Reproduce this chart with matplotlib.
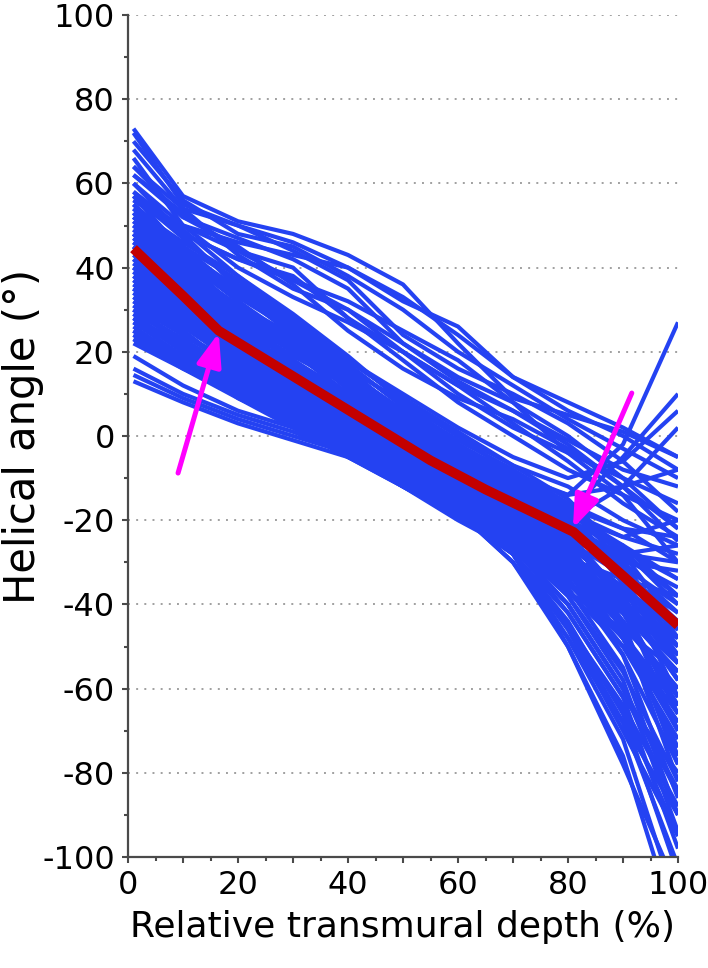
import matplotlib
matplotlib.use("Agg")
import matplotlib.pyplot as plt
from matplotlib.ticker import MultipleLocator, FuncFormatter

plt.rcParams['font.family'] = ['DejaVu Sans']
plt.rcParams['axes.unicode_minus'] = False

# Relative transmural depth sample positions (%)
depth = [1, 10, 20, 30, 40, 50, 60, 70, 80, 90, 100]

# Individual helical angle profiles (degrees), one list per profile
upper_profiles = [
    [73, 57, 51, 48, 43, 36, 22, 9, 5, 1, -5],
    [72, 55, 50, 46, 40, 33, 24, 14, 6, 0, -8],
    [70, 56, 48, 45, 38, 30, 20, 12, 4, -3, -10],
    [68, 54, 50, 44, 37, 24, 16, 10, 3, -6, -18],
    [66, 50, 46, 43, 40, 32, 26, 14, 8, 2, -5],
    [64, 52, 47, 42, 35, 22, 14, 8, 0, -10, -22],
    [62, 53, 44, 40, 28, 20, 12, 6, -2, -12, -25],
    [60, 48, 42, 37, 32, 25, 18, 8, -4, -14, -30],
    [60, 50, 44, 37, 30, 20, 10, 2, -4, -10, -16],
    [58, 48, 42, 38, 28, 18, 8, 0, -8, -14, -20],
    [62, 52, 45, 36, 25, 16, 9, 4, -3, -12, -22],
    [56, 50, 40, 33, 27, 20, 12, 3, -6, -16, -24],
    [64, 54, 43, 35, 30, 22, 13, 6, -1, -8, -12],
]

rising_end_profiles = [
    [48, 38, 30, 22, 14, 5, -3, -10, -14, -2, 27],
    [40, 33, 25, 16, 8, 0, -6, -12, -18, -5, 10],
    [52, 42, 34, 26, 18, 10, 2, -5, -10, -6, 6],
    [35, 28, 20, 12, 4, -4, -10, -16, -20, -12, 2],
    [45, 36, 28, 20, 12, 4, -3, -9, -14, -12, -8],
]

low_start_profiles = [
    [19, 12, 6, 2, -3, -9, -15, -22, -32, -48, -70],
    [16, 10, 5, 1, -4, -10, -16, -26, -42, -62, -80],
    [14.5, 9, 4, 0, -4, -10, -17, -28, -46, -70, -95],
    [13, 8, 3, -1, -5, -11, -18, -30, -50, -78, -108],
]

steep_end_profiles = [
    [30, 22, 14, 6, -2, -10, -18, -30, -48, -72, -112],
    [25, 18, 12, 5, -3, -10, -17, -28, -50, -76, -118],
    [35, 27, 18, 10, 2, -8, -17, -28, -45, -68, -102],
    [40, 30, 20, 12, 3, -6, -15, -28, -45, -65, -95],
    [28, 22, 14, 7, 0, -8, -16, -28, -48, -68, -90],
    [45, 34, 24, 15, 6, -4, -14, -26, -40, -60, -85],
]

core_profiles = [
    [57, 47, 36, 27, 18, 9, 1, -7, -15, -28, -45],
    [55, 44, 33, 25, 16, 8, 0, -9, -20, -35, -62],
    [54, 46, 38, 29, 19, 8, -2, -10, -16, -22, -30],
    [53, 40, 31, 24, 15, 6, -3, -12, -24, -40, -70],
    [52, 45, 37, 27, 16, 5, -4, -11, -18, -26, -38],
    [51, 42, 30, 21, 13, 5, -4, -13, -22, -34, -54],
    [50, 41, 34, 25, 14, 4, -5, -12, -19, -24, -20],
    [49, 38, 28, 21, 14, 6, -2, -9, -17, -30, -48],
    [48, 40, 30, 20, 10, 2, -6, -14, -26, -44, -78],
    [47, 36, 27, 19, 12, 3, -5, -13, -21, -29, -36],
    [46, 38, 29, 18, 9, 1, -7, -15, -23, -38, -58],
    [45, 35, 25, 17, 10, 1, -8, -16, -25, -37, -52],
    [44, 37, 26, 16, 7, -1, -9, -17, -24, -31, -40],
    [43, 33, 24, 17, 8, -2, -10, -18, -28, -45, -82],
    [42, 34, 22, 14, 7, -1, -8, -15, -22, -28, -26],
    [41, 31, 24, 15, 5, -3, -11, -19, -27, -40, -66],
    [40, 33, 21, 13, 6, -3, -12, -20, -30, -48, -74],
    [39, 29, 22, 14, 4, -4, -12, -19, -25, -33, -42],
    [38, 30, 19, 11, 5, -4, -13, -21, -32, -52, -86],
    [37, 27, 20, 12, 3, -5, -13, -22, -31, -42, -56],
    [36, 29, 18, 10, 2, -6, -14, -22, -27, -30, -32],
    [35, 26, 17, 11, 3, -6, -15, -24, -34, -50, -72],
    [34, 27, 19, 9, 0, -7, -14, -21, -26, -36, -46],
    [33, 24, 16, 9, 1, -8, -16, -25, -36, -55, -90],
    [32, 25, 15, 7, 0, -8, -16, -24, -33, -45, -60],
    [31, 22, 16, 8, -1, -9, -17, -26, -38, -58, -94],
    [30, 23, 14, 6, -1, -9, -17, -24, -29, -34, -38],
    [29, 20, 13, 7, -2, -10, -18, -27, -40, -60, -84],
    [28, 21, 12, 5, -3, -10, -18, -26, -35, -47, -64],
    [27, 19, 12, 4, -3, -11, -19, -28, -42, -62, -98],
    [26, 18, 11, 5, -4, -12, -20, -27, -33, -40, -50],
    [25, 17, 10, 3, -4, -12, -19, -28, -44, -66, -104],
    [24, 18, 9, 2, -5, -12, -19, -27, -37, -50, -68],
    [23, 16, 9, 3, -5, -12, -19, -28, -45, -64, -88],
    [56, 48, 35, 24, 15, 4, -6, -14, -22, -32, -44],
    [54, 43, 32, 22, 11, 2, -7, -16, -28, -46, -76],
    [50, 39, 27, 18, 9, 0, -8, -15, -20, -26, -34],
    [46, 35, 26, 16, 6, -2, -11, -20, -32, -48, -68],
    [42, 30, 20, 12, 4, -5, -14, -23, -30, -38, -44],
    [38, 28, 18, 10, 1, -7, -15, -23, -31, -40, -52],
    [34, 25, 15, 8, -2, -9, -16, -24, -32, -41, -48],
    [30, 22, 13, 5, -2, -10, -17, -26, -37, -46, -56],
    [48, 37, 28, 17, 8, 0, -9, -18, -26, -36, -50],
    [44, 32, 23, 13, 4, -4, -12, -20, -29, -39, -54],
    [55, 45, 34, 24, 14, 5, -4, -12, -20, -30, -42],
    [53, 43, 35, 26, 17, 7, -1, -8, -16, -27, -40],
    [51, 40, 29, 20, 12, 3, -6, -15, -25, -38, -58],
    [49, 42, 32, 22, 12, 3, -5, -12, -18, -24, -28],
    [47, 39, 31, 23, 13, 3, -6, -14, -22, -34, -52],
    [45, 38, 29, 20, 10, 0, -8, -15, -22, -32, -46],
    [43, 36, 27, 18, 9, 0, -8, -16, -26, -42, -64],
    [41, 34, 25, 16, 7, -1, -9, -17, -26, -36, -48],
    [39, 32, 23, 14, 6, -2, -10, -18, -29, -46, -70],
    [37, 30, 21, 13, 4, -4, -11, -18, -24, -28, -30],
    [35, 28, 20, 12, 4, -4, -12, -21, -32, -48, -66],
    [33, 26, 18, 10, 2, -5, -13, -21, -30, -40, -52],
    [31, 24, 17, 9, 1, -6, -14, -22, -34, -52, -78],
    [29, 23, 15, 8, 0, -7, -15, -23, -31, -38, -44],
    [27, 21, 14, 7, -1, -8, -16, -25, -38, -56, -82],
    [25, 19, 12, 5, -2, -9, -16, -24, -32, -42, -54],
    [23, 17, 11, 4, -3, -10, -17, -26, -40, -60, -90],
    [22, 16, 10, 4, -3, -10, -17, -25, -33, -44, -60],
    [57, 44, 32, 23, 15, 6, -2, -10, -19, -31, -48],
    [52, 41, 30, 22, 14, 5, -3, -11, -20, -32, -50],
    [48, 36, 26, 18, 10, 1, -6, -13, -20, -27, -34],
    [44, 34, 24, 15, 7, -1, -9, -18, -28, -42, -62],
    [40, 31, 22, 14, 5, -3, -11, -19, -28, -40, -58],
    [36, 27, 19, 11, 3, -5, -12, -20, -28, -37, -46],
    [32, 24, 17, 9, 1, -6, -14, -22, -31, -44, -62],
    [28, 20, 13, 6, -1, -8, -15, -23, -31, -42, -56],
    [24, 17, 10, 4, -3, -10, -17, -25, -35, -48, -64],
    [58, 49, 38, 28, 18, 9, 0, -7, -12, -20, -26],
    [50, 44, 35, 26, 17, 7, -2, -10, -18, -28, -38],
    [46, 40, 31, 22, 13, 4, -4, -11, -17, -22, -24],
]

# Mean / model profile (red)
mean_depth = [1, 5, 10, 16.5, 25, 35, 45, 55, 65, 75, 81, 90, 100]
mean_angle = [44.5, 39.5, 33.3, 25, 18.2, 10.2, 2.2, -5.8, -12.7, -19, -22.8, -33.2, -45]

# Annotation arrows: (tail, head) in data coordinates
arrow_tails = [(9.1, -8.8), (91.6, 10.2)]
arrow_heads = [(16.5, 24.5), (80.9, -21.9)]

W, H = 708, 968
fig = plt.figure(figsize=(W / 100, H / 100), dpi=100)
ax = fig.add_axes([128 / W, (H - 857) / H, 550 / W, 842 / H])

blue = '#2442f2'
all_profiles = upper_profiles + rising_end_profiles + low_start_profiles + steep_end_profiles + core_profiles
for prof in all_profiles:
    ax.plot(depth, prof, color=blue, lw=3.0, solid_capstyle='butt', solid_joinstyle='round', zorder=2)

ax.plot(mean_depth, mean_angle, color='#c40000', lw=7.0, solid_capstyle='butt', zorder=3)

for tail, head in zip(arrow_tails, arrow_heads):
    ax.annotate('', xy=head, xytext=tail,
                arrowprops=dict(arrowstyle='-|>,head_length=2.0,head_width=0.75',
                                color='#ff00ff', lw=3.6, shrinkA=0, shrinkB=0),
                zorder=4)

ax.set_xlim(0, 100)
ax.set_ylim(-100, 100)

ax.xaxis.set_major_locator(MultipleLocator(10))
ax.xaxis.set_minor_locator(MultipleLocator(5))
ax.xaxis.set_major_formatter(FuncFormatter(lambda v, p: f"{int(round(v))}" if int(round(v)) % 20 == 0 else ""))
ax.yaxis.set_major_locator(MultipleLocator(20))
ax.yaxis.set_minor_locator(MultipleLocator(10))
ax.yaxis.set_major_formatter(FuncFormatter(lambda v, p: f"{int(round(v))}"))

for y in range(-80, 101, 20):
    ax.axhline(y, color='#a0a0a0', lw=1.4, linestyle=(0, (1, 3.2)), zorder=1)

for s in ['top', 'right']:
    ax.spines[s].set_visible(False)
for s in ['left', 'bottom']:
    ax.spines[s].set_color('#4a4a4a')
    ax.spines[s].set_linewidth(1.6)

ax.tick_params(which='major', direction='out', length=4.5, width=1.5, color='#4a4a4a',
               labelsize=23, pad=5)
ax.tick_params(which='minor', direction='out', length=2.6, width=1.5, color='#4a4a4a')

ax.set_xlabel('Relative transmural depth (%)', fontsize=26, labelpad=6)
ax.set_ylabel('Helical angle (°)', fontsize=30)
ax.yaxis.set_label_coords(-0.152, 0.5)

fig.savefig('out.png', dpi=100)
